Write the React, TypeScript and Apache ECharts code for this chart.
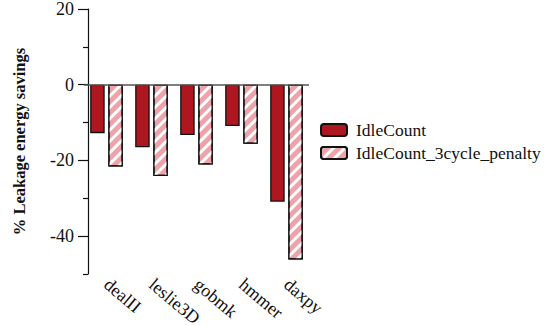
import React, { useEffect, useRef } from "react";
import * as echarts from "echarts";

const categories = ["dealII", "leslie3D", "gobmk", "hmmer", "daxpy"];
const idleCount = [-12.8, -16.5, -13.3, -10.9, -30.9];
const idleCountPenalty = [-21.6, -24.1, -21.1, -15.6, -46.2];
const majorTicks = [-40, -20, 0, 20];
const minorTicks = [-50, -30, -10, 10];

const FONT = "Liberation Serif";
const DARK_RED = "#AF1720";
const PINK = "#EEA3AB";

export default function App() {
  const ref = useRef<HTMLDivElement>(null);

  useEffect(() => {
    if (!ref.current) return;
    const chart = echarts.init(ref.current, null, { renderer: "svg" });
    chart.setOption({
      animation: false,
      textStyle: { fontFamily: FONT },
      grid: {
        left: 84,
        right: 236,
        top: 9,
        bottom: 51,
        containLabel: false,
        outerBoundsMode: "none",
      },
      legend: {
        orient: "vertical",
        left: 320,
        top: 121,
        padding: 0,
        itemWidth: 26,
        itemHeight: 12,
        itemGap: 5,
        textStyle: { fontFamily: FONT, fontSize: 17.5, color: "#111", padding: [0, 0, 0, 4] },
        data: ["IdleCount", "IdleCount_3cycle_penalty"],
      },
      xAxis: {
        type: "category",
        data: categories,
        axisLine: { show: false, onZero: false },
        axisTick: { show: false },
        axisLabel: {
          rotate: -40,
          margin: 8,
          fontFamily: FONT,
          fontSize: 18,
          color: "#111",
        },
      },
      yAxis: [
        {
          type: "value",
          position: "left",
          offset: -4,
          min: -50,
          max: 20,
          name: "% Leakage energy savings",
          nameLocation: "middle",
          nameGap: 60,
          nameTextStyle: { fontFamily: FONT, fontSize: 16.5, fontWeight: "bold", color: "#111" },
          axisLine: { show: true, lineStyle: { color: "#111", width: 1.2 } },
          axisTick: {
            show: true,
            length: 10,
            customValues: majorTicks,
            lineStyle: { color: "#111", width: 1.2 },
          },
          axisLabel: {
            customValues: majorTicks,
            margin: 14,
            fontFamily: FONT,
            fontSize: 18,
            color: "#111",
          },
          splitLine: { show: false },
        },
        {
          type: "value",
          position: "left",
          offset: -4,
          min: -50,
          max: 20,
          axisLine: { show: false },
          axisTick: {
            show: true,
            length: 5,
            customValues: minorTicks,
            lineStyle: { color: "#111", width: 1.2 },
          },
          axisLabel: { show: false },
          splitLine: { show: false },
        },
      ],
      series: [
        {
          name: "IdleCount",
          type: "bar",
          data: idleCount,
          barWidth: 14.5,
          barGap: "25%",
          itemStyle: { color: DARK_RED, borderColor: "#111", borderWidth: 1.3 },
          markLine: {
            silent: true,
            symbol: "none",
            label: { show: false },
            lineStyle: { color: "#555", width: 1.5, type: "solid" },
            data: [{ yAxis: 0 }],
          },
        },
        {
          name: "IdleCount_3cycle_penalty",
          type: "bar",
          data: idleCountPenalty,
          barWidth: 14.5,
          barGap: "25%",
          itemStyle: {
            color: PINK,
            borderColor: "#111",
            borderWidth: 1.3,
            decal: {
              symbol: "rect",
              symbolSize: 1,
              color: "#ffffff",
              dashArrayX: [1, 0],
              dashArrayY: [3, 5],
              rotation: -Math.PI / 4,
            },
          },
        },
      ],
    });
    return () => chart.dispose();
  }, []);

  return <div ref={ref} style={{ width: 545, height: 325, position: "absolute", left: 0, top: 0 }} />;
}
